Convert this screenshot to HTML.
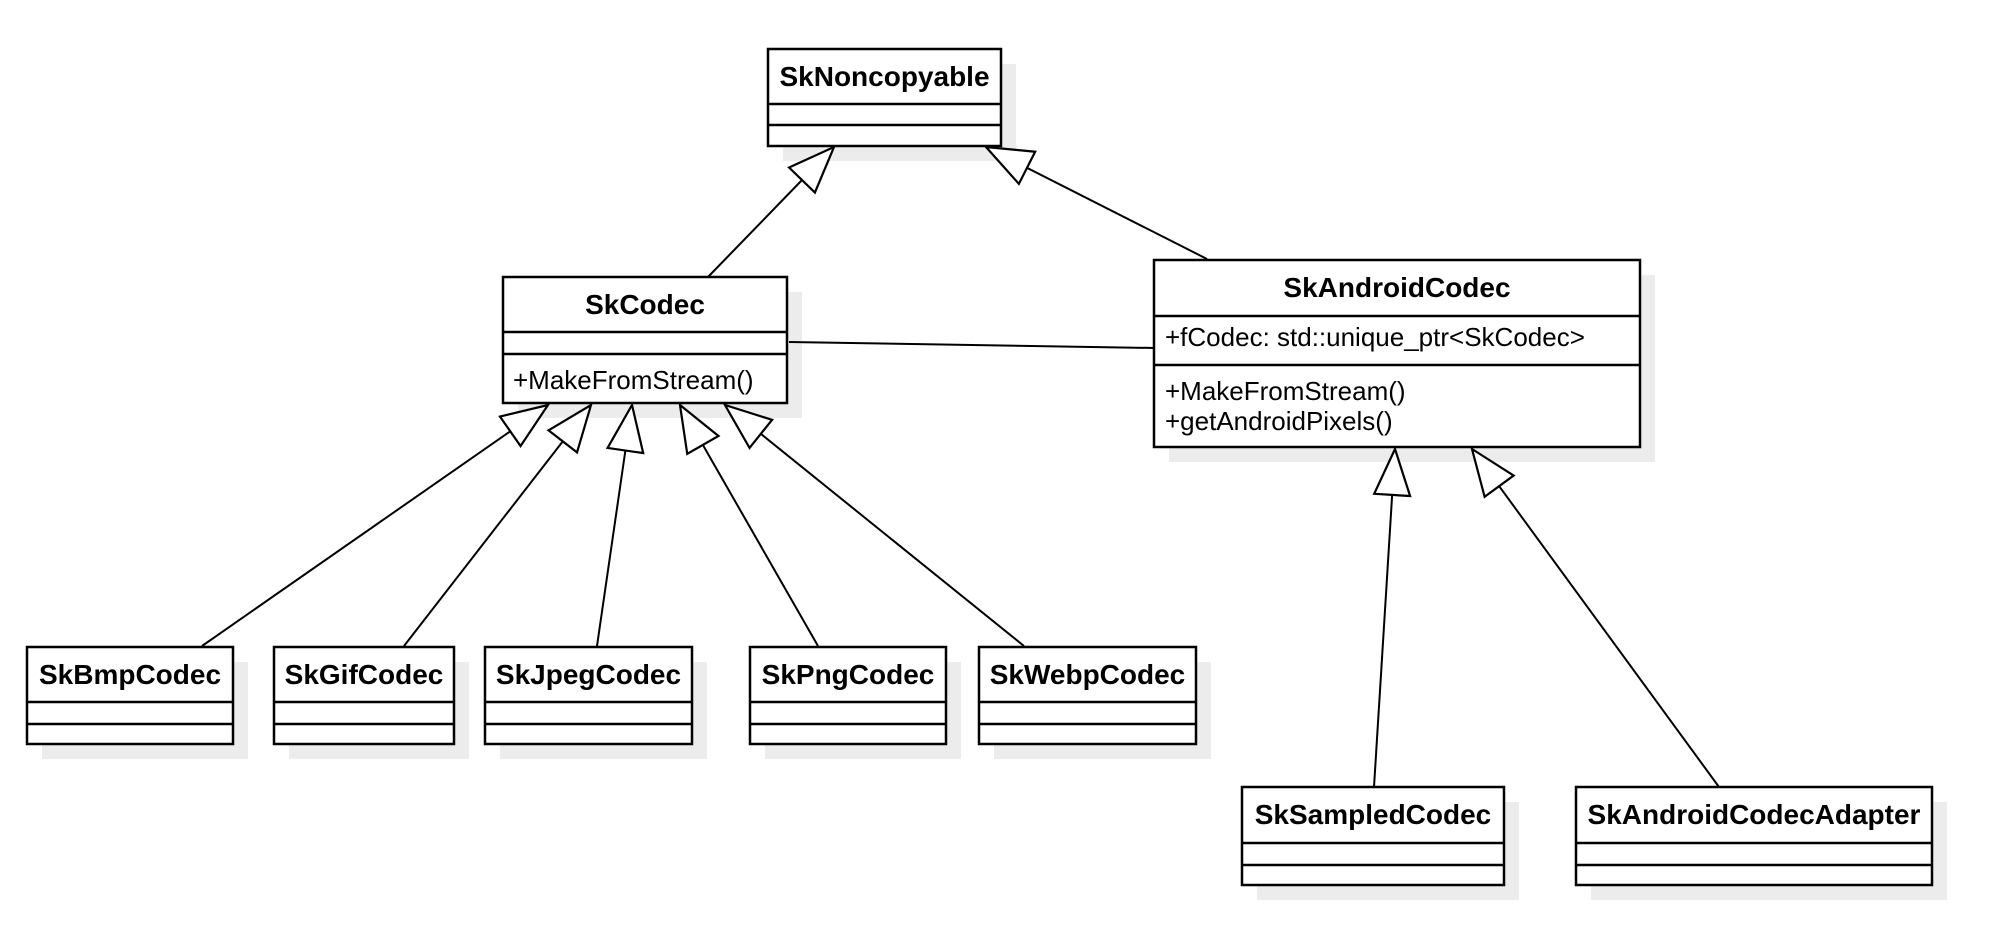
<!DOCTYPE html>
<html><head><meta charset="utf-8"><style>
html,body{margin:0;padding:0;background:#fff;}
svg{display:block;}
text{font-family:"Liberation Sans",Arial,sans-serif;fill:#000;}
.t{font-weight:bold;font-size:28px;text-anchor:middle;}
.r{font-size:26px;}
.b{fill:#fff;stroke:#000;stroke-width:2.5;}
.s{fill:#ececec;}
.l{stroke:#000;stroke-width:2;fill:none;}
.d{stroke:#000;stroke-width:2.5;}
</style></head><body>
<svg width="2004" height="948" viewBox="0 0 2004 948" xmlns="http://www.w3.org/2000/svg">
<defs>
<marker id="tri" markerUnits="userSpaceOnUse" viewBox="-2 -20 50 40" refX="46" refY="0" markerWidth="50" markerHeight="40" orient="auto">
<path d="M0,-18 L46,0 L0,18 Z" fill="#fff" stroke="#000" stroke-width="2.2"/>
</marker>
</defs>
<!-- shadows -->
<rect class="s" x="783" y="64" width="233" height="97"/>
<rect class="s" x="518" y="292" width="284" height="126"/>
<rect class="s" x="1169" y="275" width="486" height="187"/>
<rect class="s" x="42" y="662" width="206" height="97"/>
<rect class="s" x="289" y="662" width="180" height="97"/>
<rect class="s" x="500" y="662" width="207" height="97"/>
<rect class="s" x="765" y="662" width="196" height="97"/>
<rect class="s" x="994" y="662" width="217" height="97"/>
<rect class="s" x="1257" y="802" width="262" height="98"/>
<rect class="s" x="1591" y="802" width="356" height="98"/>

<!-- connectors -->
<line class="l" x1="708" y1="277" x2="834" y2="147" marker-end="url(#tri)"/>
<line class="l" x1="1207" y1="259" x2="986" y2="147" marker-end="url(#tri)"/>
<line class="l" x1="789" y1="342" x2="1155" y2="348"/>
<line class="l" x1="202" y1="646" x2="548" y2="405" marker-end="url(#tri)"/>
<line class="l" x1="404" y1="646" x2="591" y2="405" marker-end="url(#tri)"/>
<line class="l" x1="597" y1="646" x2="632" y2="405" marker-end="url(#tri)"/>
<line class="l" x1="818" y1="646" x2="680" y2="405" marker-end="url(#tri)"/>
<line class="l" x1="1024" y1="646" x2="725" y2="405" marker-end="url(#tri)"/>
<line class="l" x1="1374" y1="787" x2="1395" y2="449" marker-end="url(#tri)"/>
<line class="l" x1="1719" y1="787" x2="1472" y2="449" marker-end="url(#tri)"/>

<!-- SkNoncopyable -->
<rect class="b" x="768" y="49" width="233" height="97"/>
<line class="d" x1="768" y1="104" x2="1001" y2="104"/>
<line class="d" x1="768" y1="125" x2="1001" y2="125"/>
<text class="t" x="884.5" y="86">SkNoncopyable</text>

<!-- SkCodec -->
<rect class="b" x="503" y="277" width="284" height="126"/>
<line class="d" x1="503" y1="332" x2="787" y2="332"/>
<line class="d" x1="503" y1="354" x2="787" y2="354"/>
<text class="t" x="645" y="314">SkCodec</text>
<text class="r" x="513" y="389">+MakeFromStream()</text>

<!-- SkAndroidCodec -->
<rect class="b" x="1154" y="260" width="486" height="187"/>
<line class="d" x1="1154" y1="316" x2="1640" y2="316"/>
<line class="d" x1="1154" y1="365" x2="1640" y2="365"/>
<text class="t" x="1397" y="297">SkAndroidCodec</text>
<text class="r" x="1165" y="346">+fCodec: std::unique_ptr&lt;SkCodec&gt;</text>
<text class="r" x="1165" y="400">+MakeFromStream()</text>
<text class="r" x="1165" y="430">+getAndroidPixels()</text>

<!-- small boxes -->
<rect class="b" x="27" y="647" width="206" height="97"/>
<line class="d" x1="27" y1="702" x2="233" y2="702"/><line class="d" x1="27" y1="724" x2="233" y2="724"/>
<text class="t" x="130" y="684">SkBmpCodec</text>

<rect class="b" x="274" y="647" width="180" height="97"/>
<line class="d" x1="274" y1="702" x2="454" y2="702"/><line class="d" x1="274" y1="724" x2="454" y2="724"/>
<text class="t" x="364" y="684">SkGifCodec</text>

<rect class="b" x="485" y="647" width="207" height="97"/>
<line class="d" x1="485" y1="702" x2="692" y2="702"/><line class="d" x1="485" y1="724" x2="692" y2="724"/>
<text class="t" x="588.5" y="684">SkJpegCodec</text>

<rect class="b" x="750" y="647" width="196" height="97"/>
<line class="d" x1="750" y1="702" x2="946" y2="702"/><line class="d" x1="750" y1="724" x2="946" y2="724"/>
<text class="t" x="848" y="684">SkPngCodec</text>

<rect class="b" x="979" y="647" width="217" height="97"/>
<line class="d" x1="979" y1="702" x2="1196" y2="702"/><line class="d" x1="979" y1="724" x2="1196" y2="724"/>
<text class="t" x="1087.5" y="684">SkWebpCodec</text>

<rect class="b" x="1242" y="787" width="262" height="98"/>
<line class="d" x1="1242" y1="843" x2="1504" y2="843"/><line class="d" x1="1242" y1="865" x2="1504" y2="865"/>
<text class="t" x="1373" y="824">SkSampledCodec</text>

<rect class="b" x="1576" y="787" width="356" height="98"/>
<line class="d" x1="1576" y1="843" x2="1932" y2="843"/><line class="d" x1="1576" y1="865" x2="1932" y2="865"/>
<text class="t" x="1754" y="824">SkAndroidCodecAdapter</text>
</svg>
</body></html>
